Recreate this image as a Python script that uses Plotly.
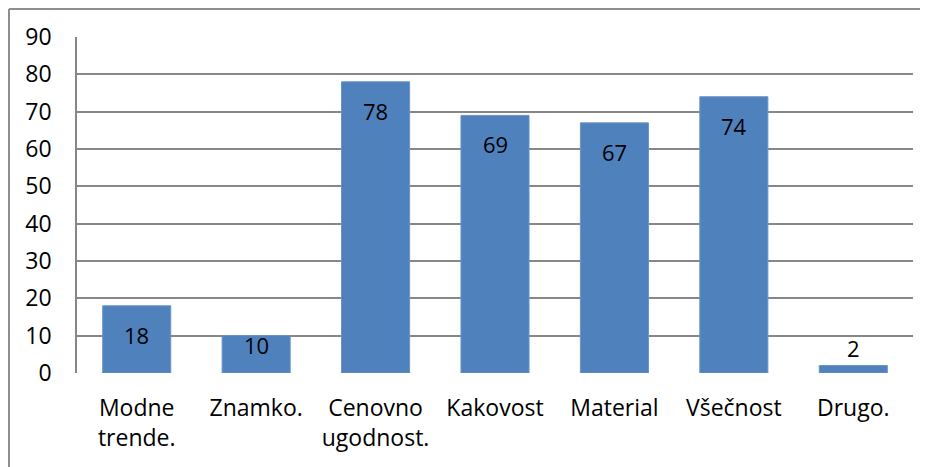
import plotly.graph_objects as go

# Data
categories = ["Modne<br>trende.", "Znamko.", "Cenovno<br>ugodnost.", "Kakovost",
              "Material", "Všečnost", "Drugo."]
values = [18, 10, 78, 69, 67, 74, 2]
y_ticks = [0, 10, 20, 30, 40, 50, 60, 70, 80, 90]

# Geometry (pixels) - page has an 8px body margin, so the figure is 8px smaller
W, H = 920, 459
m_l, m_r, m_t, m_b = 69, 15, 29, 94
plot_w = W - m_l - m_r
plot_h = H - m_t - m_b
px_per_unit = plot_h / 90

FONT = "Open Sans, sans-serif"

fig = go.Figure(go.Bar(
    x=categories, y=values,
    marker=dict(color="#4F81BD", line=dict(color="#6A95C8", width=1)),
    hoverinfo="x+y",
))

# data labels, Excel-style "inside end"
for c, v in zip(categories, values):
    bar_px = v * px_per_unit
    if bar_px < 28:
        shift = 18
    else:
        shift = -min(29, bar_px - 28)
    fig.add_annotation(x=c, y=v, text=str(v), showarrow=False,
                       yanchor="middle", yshift=shift,
                       font=dict(family=FONT, size=22, color="black"))

# chart frame (only top and left edges visible)
fx = (1 - m_l) / plot_w
fy_top = 1 + (m_t - 1) / plot_h
fy_bot = -(m_b + 5) / plot_h
frame = dict(color="#8E8E8E", width=2)
fig.add_shape(type="line", xref="paper", yref="paper", x0=fx, x1=1.2, y0=fy_top, y1=fy_top, line=frame)
fig.add_shape(type="line", xref="paper", yref="paper", x0=fx, x1=fx, y0=fy_top, y1=fy_bot, line=frame)

fig.update_layout(
    width=W, height=H,
    margin=dict(l=m_l, r=m_r, t=m_t, b=m_b),
    paper_bgcolor="white", plot_bgcolor="white",
    bargap=0.43,
    showlegend=False,
    font=dict(family=FONT, size=23, color="black"),
)
fig.update_xaxes(showgrid=False, showline=False, ticks="", ticklabelstandoff=19,
                 zeroline=False)
fig.update_yaxes(range=[0, 90], tickvals=y_ticks, showgrid=True,
                 gridcolor="#878787", gridwidth=1.5, showline=True,
                 linecolor="#878787", linewidth=1.5, zeroline=False,
                 ticks="", ticklabelstandoff=19)

fig.write_html("out.html")
